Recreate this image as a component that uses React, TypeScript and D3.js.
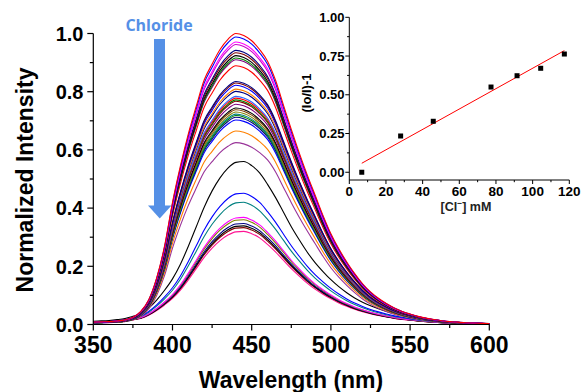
import React from 'react';
import * as d3 from 'd3';

// ---------- main spectra data ----------
const wavelengths = [
  350, 355, 360, 365, 370, 375, 380, 385, 390, 395,
  400, 405, 410, 415, 420, 425, 430, 435, 440, 445,
  450, 455, 460, 465, 470, 475, 480, 485, 490, 495,
  500, 505, 510, 515, 520, 525, 530, 535, 540, 545,
  550, 555, 560, 565, 570, 575, 580, 585, 590, 595, 600,
];

// normalized band shape of the brighter spectra (peak = 1)
const profileHigh = [
  0.008, 0.009, 0.010, 0.012, 0.016, 0.025, 0.045, 0.085, 0.16, 0.27,
  0.42, 0.545, 0.655, 0.75, 0.84, 0.895, 0.945, 0.98, 1.0, 0.993,
  0.975, 0.945, 0.905, 0.84, 0.755, 0.67, 0.59, 0.515, 0.445, 0.375,
  0.312, 0.26, 0.215, 0.175, 0.14, 0.112, 0.09, 0.072, 0.057, 0.045,
  0.036, 0.028, 0.022, 0.017, 0.013, 0.010, 0.008, 0.006, 0.005, 0.004, 0.003,
];

// normalized band shape of the quenched spectra (peak = 1)
const profileLow = [
  0.02, 0.022, 0.025, 0.03, 0.037, 0.05, 0.065, 0.10, 0.15, 0.21,
  0.28, 0.37, 0.48, 0.60, 0.72, 0.82, 0.90, 0.96, 0.995, 1.0,
  0.975, 0.93, 0.86, 0.78, 0.69, 0.60, 0.52, 0.445, 0.38, 0.325,
  0.275, 0.232, 0.195, 0.163, 0.137, 0.115, 0.096, 0.08, 0.066, 0.055,
  0.045, 0.037, 0.030, 0.024, 0.019, 0.015, 0.012, 0.010, 0.008, 0.007, 0.006,
];

const peakValues = [
  1.0, 0.988, 0.971, 0.962, 0.942, 0.934, 0.924, 0.916, 0.91, 0.889,
  0.835, 0.83, 0.822, 0.809, 0.801, 0.784, 0.778, 0.772, 0.767, 0.757,
  0.744, 0.738, 0.73, 0.723, 0.718, 0.712, 0.703, 0.665, 0.625, 0.56,
  0.451, 0.42, 0.368, 0.36, 0.347, 0.339, 0.333, 0.32,
];

const curveColors = [
  '#FF0000', '#0000FF', '#FF00FF', '#CC00CC', '#000080', '#800000', '#000000', '#008000', '#800080', '#FF0000',
  '#000080', '#800000', '#0000FF', '#FF8000', '#000080', '#3366FF', '#FF0000', '#008000', '#800000', '#800080',
  '#000000', '#804000', '#808000', '#008080', '#008000', '#000080', '#0000FF', '#FF8000', '#993399', '#000000',
  '#0000FF', '#008080', '#FF00FF', '#808000', '#000080', '#000000', '#800000', '#FF1493',
];

const xTicks = [350, 400, 450, 500, 550, 600];
const xMinorTicks = [375, 425, 475, 525, 575];
const yTicks = [0, 0.2, 0.4, 0.6, 0.8, 1.0];
const yMinorTicks = [0.1, 0.3, 0.5, 0.7, 0.9];

// ---------- inset data ----------
const insetConc = [6.8, 28, 45.8, 77.3, 91.5, 104.4, 117.3];
const insetRatio = [0.0, 0.234, 0.329, 0.55, 0.623, 0.671, 0.763];
const fitConc = [6.8, 117.3];
const fitRatio = [0.058, 0.785];

const insetXTicks = [0, 20, 40, 60, 80, 100, 120];
const insetXMinor = [10, 30, 50, 70, 90, 110];
const insetYTicks = [0, 0.25, 0.5, 0.75, 1.0];
const insetYMinor = [0.125, 0.375, 0.625, 0.875];

const FONT = "'Liberation Sans', Arial, Helvetica, sans-serif";
const ARROW = '#5590E6';

export default function App() {
  const x = d3.scaleLinear().domain([350, 600]).range([93.3, 489.3]);
  const y = d3.scaleLinear().domain([0, 1]).range([324.5, 33.5]);

  const line = d3
    .line<[number, number]>()
    .x((d) => x(d[0]))
    .y((d) => y(d[1]))
    .curve(d3.curveMonotoneX);

  const series = peakValues.map((p, i) => {
    const prof = p >= 0.6 ? profileHigh : profileLow;
    const pts: [number, number][] = wavelengths.map((w, j) => [w, p * prof[j]]);
    return { d: line(pts) as string, color: curveColors[i % curveColors.length] };
  });

  const ix = d3.scaleLinear().domain([0, 120]).range([349.3, 569.3]);
  const iy = d3.scaleLinear().domain([-0.05, 1.0]).range([180, 17.3]);

  const fmt1 = d3.format('.1f');
  const fmt2 = d3.format('.2f');

  return (
    <svg
      width={581}
      height={392}
      style={{ position: 'absolute', left: 0, top: 0, background: '#fff' }}
      fontFamily={FONT}
    >
      <rect x={0} y={0} width={581} height={392} fill="#fff" />

      {/* spectra (drawn lowest first) */}
      <g fill="none" strokeWidth={1.1}>
        {series
          .slice()
          .reverse()
          .map((s, i) => (
            <path key={i} d={s.d} stroke={s.color} />
          ))}
      </g>

      {/* main axes */}
      <g stroke="#000" strokeWidth={1.2}>
        <line x1={x(350)} x2={x(600)} y1={y(0)} y2={y(0)} />
        <line x1={x(350)} x2={x(350)} y1={y(0)} y2={y(1)} />
        {xTicks.map((t) => (
          <line key={'xt' + t} x1={x(t)} x2={x(t)} y1={y(0)} y2={y(0) + 6} />
        ))}
        {xMinorTicks.map((t) => (
          <line key={'xm' + t} x1={x(t)} x2={x(t)} y1={y(0)} y2={y(0) + 3.5} />
        ))}
        {yTicks.map((t) => (
          <line key={'yt' + t} x1={x(350) - 6} x2={x(350)} y1={y(t)} y2={y(t)} />
        ))}
        {yMinorTicks.map((t) => (
          <line key={'ym' + t} x1={x(350) - 3.5} x2={x(350)} y1={y(t)} y2={y(t)} />
        ))}
      </g>
      <g fontWeight="bold" fontSize={23} textAnchor="middle" fill="#000">
        {xTicks.map((t) => (
          <text key={'xl' + t} x={x(t)} y={353}>
            {t}
          </text>
        ))}
      </g>
      <g fontWeight="bold" fontSize={20} textAnchor="end" fill="#000">
        {yTicks.map((t) => (
          <text key={'yl' + t} x={83.5} y={y(t) + 7.2}>
            {fmt1(t)}
          </text>
        ))}
      </g>
      <text x={291} y={388} textAnchor="middle" fontWeight="bold" fontSize={23}>
        Wavelength (nm)
      </text>
      <text
        transform={`translate(33,${180}) rotate(-90)`}
        textAnchor="middle"
        fontWeight="bold"
        fontSize={23}
      >
        Normalized Intensity
      </text>

      {/* chloride arrow */}
      <text
        x={159}
        y={30.5}
        textAnchor="middle"
        fontFamily="'Open Sans', sans-serif"
        fontWeight="bold"
        fontSize={16}
        fill={ARROW}
      >
        Chloride
      </text>
      <rect x={154} y={39} width={11} height={167} fill={ARROW} />
      <polygon points="148,205.5 171.5,205.5 159.75,218.5" fill={ARROW} />

      {/* inset */}
      <g stroke="#000" strokeWidth={1}>
        <line x1={ix(0)} x2={ix(120)} y1={iy(-0.05)} y2={iy(-0.05)} />
        <line x1={ix(0)} x2={ix(0)} y1={iy(-0.05)} y2={iy(1)} />
        {insetXTicks.map((t) => (
          <line key={'ixt' + t} x1={ix(t)} x2={ix(t)} y1={iy(-0.05)} y2={iy(-0.05) + 4} />
        ))}
        {insetXMinor.map((t) => (
          <line key={'ixm' + t} x1={ix(t)} x2={ix(t)} y1={iy(-0.05)} y2={iy(-0.05) + 2.2} />
        ))}
        {insetYTicks.map((t) => (
          <line key={'iyt' + t} x1={ix(0) - 4} x2={ix(0)} y1={iy(t)} y2={iy(t)} />
        ))}
        {insetYMinor.map((t) => (
          <line key={'iym' + t} x1={ix(0) - 2.2} x2={ix(0)} y1={iy(t)} y2={iy(t)} />
        ))}
      </g>
      <g fontWeight="bold" fontSize={13.5} textAnchor="middle" fill="#000">
        {insetXTicks.map((t) => (
          <text key={'ixl' + t} x={ix(t)} y={195.5}>
            {t}
          </text>
        ))}
      </g>
      <g fontWeight="bold" fontSize={13} textAnchor="end" fill="#000">
        {insetYTicks.map((t) => (
          <text key={'iyl' + t} x={344.5} y={iy(t) + 4.6}>
            {fmt2(t)}
          </text>
        ))}
      </g>
      <text x={466} y={211} textAnchor="middle" fontWeight="bold" fontSize={12.5} fill="#222">
        [Cl
        <tspan dy={-5} fontSize={8.5}>
          −
        </tspan>
        <tspan dy={5}>] mM</tspan>
      </text>
      <text
        transform={`translate(311,93) rotate(-90)`}
        textAnchor="middle"
        fontWeight="bold"
        fontSize={13}
        fill="#000"
      >
        (Io/I)-1
      </text>
      <line
        x1={ix(fitConc[0])}
        y1={iy(fitRatio[0])}
        x2={ix(fitConc[1])}
        y2={iy(fitRatio[1])}
        stroke="#FF0000"
        strokeWidth={1}
      />
      {insetConc.map((c, i) => (
        <rect key={'ip' + i} x={ix(c) - 2.5} y={iy(insetRatio[i]) - 2.5} width={5} height={5} fill="#000" />
      ))}
    </svg>
  );
}
